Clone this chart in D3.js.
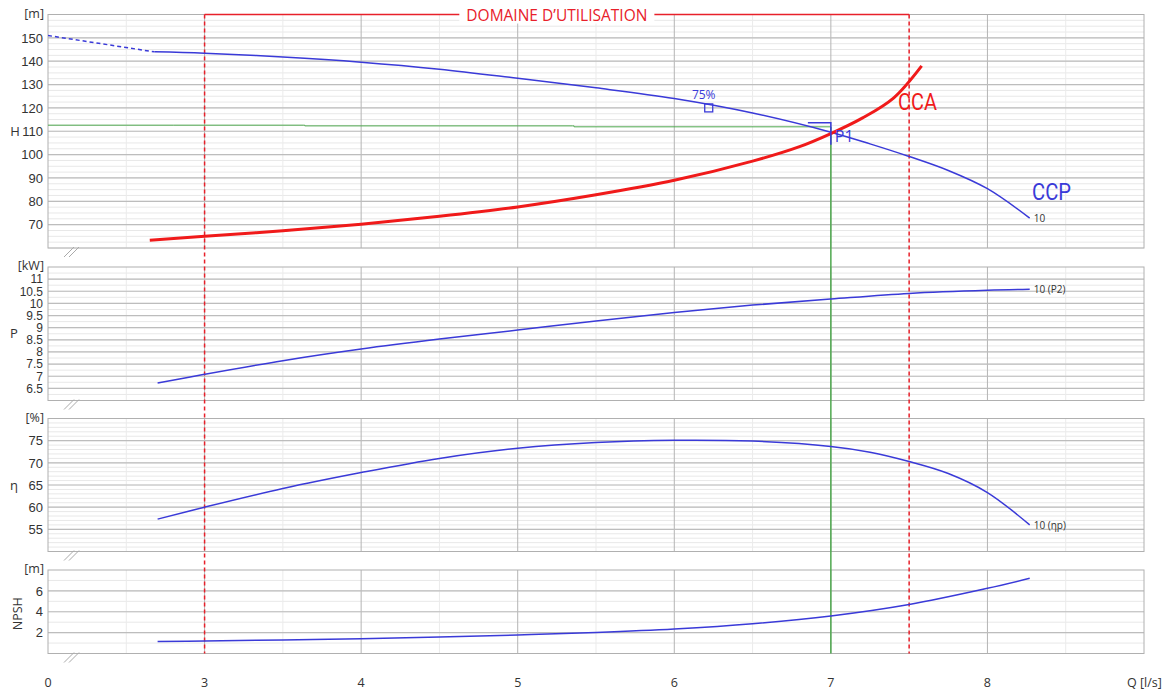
<!DOCTYPE html>
<html>
<head>
<meta charset="utf-8">
<script src="https://cdn.jsdelivr.net/npm/d3@7"></script>
<style>
  body { margin: 0; background: #fff; }
  svg { font-family: "Open Sans", "Noto Sans", sans-serif; }
  .tick text { font-size: 13px; fill: #333; }
  .tight .tick text { font-size: 12px; }
</style>
</head>
<body>
<div id="chart"></div>
<script>
// --- DATA (Q in l/s; the axis is broken, "0" sits at the left edge = 2) ---
const qTicks = [2, 3, 4, 5, 6, 7, 8];
const qLabels = ["0", "3", "4", "5", "6", "7", "8"];

const hShutoffQ = [2, 2.68];
const hShutoff = [151, 144];

const ccpQ = [2.68, 3, 3.5, 4, 4.5, 5, 5.5, 6, 6.5, 7, 7.25, 7.5, 7.75, 8, 8.27];
const ccpH = [144, 143.4, 141.8, 139.6, 136.6, 132.7, 128.6, 124, 117.8, 109.6, 104.6, 99.2, 93.2, 85.4, 72.8];

const ccaQ = [2.65, 3, 3.5, 4, 4.5, 5, 5.5, 6, 6.5, 6.8, 7, 7.2, 7.4, 7.58];
const ccaH = [63.3, 65, 67.4, 70.2, 73.6, 77.6, 82.8, 89, 97.2, 103.4, 109, 115.6, 124.2, 138];

const pQ = [2.7, 3, 3.5, 4, 4.5, 5, 5.5, 6, 6.5, 7, 7.5, 8, 8.27];
const pKW = [6.72, 7.08, 7.64, 8.12, 8.53, 8.9, 9.28, 9.63, 9.93, 10.18, 10.41, 10.54, 10.58];

const etaQ = [2.7, 3, 3.5, 4, 4.5, 5, 5.5, 6, 6.5, 7, 7.25, 7.5, 7.75, 8, 8.27];
const eta = [57.3, 60, 64.2, 67.8, 71, 73.3, 74.6, 75.1, 74.9, 73.7, 72.4, 70.3, 67.6, 63.3, 56];

const npshQ = [2.7, 3, 3.5, 4, 4.5, 5, 5.5, 6, 6.5, 7, 7.5, 8, 8.27];
const npsh = [1.15, 1.2, 1.3, 1.42, 1.58, 1.78, 2.02, 2.35, 2.85, 3.6, 4.7, 6.25, 7.2];

const dutyLine = { q: [2, 2.8, 3.63, 3.64, 5.35, 5.36, 7], h: [112.6, 112.6, 112.6, 112.3, 112.3, 111.9, 111.9] };
const dutyQ = 7, dutyH = 109.4;
const rangeQ = [3, 7.5];
const bestEffQ = 6.22, bestEffH = 120;

// --- LAYOUT ---
const width = 1172, height = 693;
const left = 48, right = 1144;

const svg = d3.select("#chart").append("svg")
  .attr("width", width).attr("height", height);

const x = d3.scaleLinear().domain([2, 9]).range([left, right]);

const panels = [
  { key: "H", unit: "[m]", top: 14.5, bottom: 248, domain: [60, 160], ticks: d3.range(70, 151, 10), minor: d3.range(60, 160, 2.5) },
  { key: "P", unit: "[kW]", top: 267, bottom: 400.5, domain: [6, 11.5], ticks: d3.range(6.5, 11.01, 0.5), minor: d3.range(6, 11.5, 0.25), tight: true },
  { key: "η", unit: "[%]", top: 418.5, bottom: 551.5, domain: [50, 80], ticks: d3.range(55, 76, 5), minor: d3.range(50, 80, 1) },
  { key: "NPSH", unit: "[m]", top: 570, bottom: 653.5, domain: [0, 8], ticks: [2, 4, 6], minor: d3.range(0, 8, 1) }
];

panels.forEach(p => {
  p.y = d3.scaleLinear().domain(p.domain).range([p.bottom, p.top]);
  const g = svg.append("g");

  // minor horizontal grid
  g.selectAll(".hmin").data(p.minor).enter().append("line")
    .attr("x1", left).attr("x2", right)
    .attr("y1", d => p.y(d)).attr("y2", d => p.y(d))
    .attr("stroke", "#e8e8e8").attr("stroke-width", 1);

  // vertical grid: half steps light, whole steps darker
  g.selectAll(".vmin").data(d3.range(2.5, 9, 1)).enter().append("line")
    .attr("x1", d => x(d)).attr("x2", d => x(d))
    .attr("y1", p.top).attr("y2", p.bottom)
    .attr("stroke", "#ebebeb");
  g.selectAll(".vmaj").data(d3.range(3, 9, 1)).enter().append("line")
    .attr("x1", d => x(d)).attr("x2", d => x(d))
    .attr("y1", p.top).attr("y2", p.bottom)
    .attr("stroke", "#b4b4b4");

  // major horizontal grid
  g.selectAll(".hmaj").data(p.ticks).enter().append("line")
    .attr("x1", left).attr("x2", right)
    .attr("y1", d => p.y(d)).attr("y2", d => p.y(d))
    .attr("stroke", "#bdbdbd").attr("stroke-width", 1.2);

  g.append("rect")
    .attr("x", left).attr("y", p.top)
    .attr("width", right - left).attr("height", p.bottom - p.top)
    .attr("fill", "none").attr("stroke", "#b0b0b0");

  const ax = g.append("g").attr("transform", `translate(${left - 1},0)`)
    .classed("tight", !!p.tight)
    .call(d3.axisLeft(p.y).tickValues(p.ticks).tickSize(0).tickPadding(4).tickFormat(d3.format("")));
  ax.select(".domain").remove();

  g.append("text").attr("x", 44).attr("y", p.top + 3)
    .attr("text-anchor", "end").attr("font-size", 12.5).attr("fill", "#333").text(p.unit);

  // axis break marks
  [0, 5].forEach(o => {
    g.append("line")
      .attr("x1", 64 + o).attr("y1", p.bottom + 9)
      .attr("x2", 74 + o).attr("y2", p.bottom - 1)
      .attr("stroke", "#aaa").attr("stroke-width", 1);
  });
});

const [pH, pP, pE, pN] = panels;

// axis titles
svg.append("text").attr("x", 15).attr("y", pH.y(110) + 4.5).attr("text-anchor", "middle").attr("font-size", 13).attr("fill", "#333").text("H");
svg.append("text").attr("x", 14).attr("y", pP.y(8.75) + 4.5).attr("text-anchor", "middle").attr("font-size", 13).attr("fill", "#333").text("P");
svg.append("text").attr("x", 14).attr("y", pE.y(65) + 4.5).attr("text-anchor", "middle").attr("font-size", 13).attr("fill", "#333").text("η");
svg.append("text").attr("transform", `translate(${22},${(pN.top + pN.bottom) / 2 + 2}) rotate(-90)`)
  .attr("text-anchor", "middle").attr("font-size", 12.5).attr("fill", "#333").text("NPSH");

// x axis labels
svg.append("g").selectAll("text").data(qTicks).enter().append("text")
  .attr("x", d => x(d)).attr("y", 687)
  .attr("text-anchor", "middle").attr("font-size", 12.5).attr("fill", "#333")
  .text((d, i) => qLabels[i]);
svg.append("text").attr("x", 1127).attr("y", 687).attr("font-size", 12.5).attr("fill", "#333").text("Q [l/s]");

// operating range (red dashed) + bracket
rangeQ.forEach(q => {
  svg.append("line")
    .attr("x1", x(q)).attr("x2", x(q))
    .attr("y1", pH.top).attr("y2", pN.bottom)
    .attr("stroke", "#e8202a").attr("stroke-width", 1.5)
    .attr("stroke-dasharray", "4,3");
});
svg.append("line").attr("x1", x(rangeQ[0])).attr("x2", x(rangeQ[1]))
  .attr("y1", pH.top).attr("y2", pH.top)
  .attr("stroke", "#e8202a").attr("stroke-width", 1.5);
const title = svg.append("text")
  .attr("x", (x(rangeQ[0]) + x(rangeQ[1])) / 2).attr("y", pH.top + 6)
  .attr("text-anchor", "middle").attr("font-size", 15.5).attr("fill", "#e8202a")
  .text("DOMAINE D’UTILISATION");
const tb = title.node().getBBox();
svg.insert("rect", () => title.node())
  .attr("x", tb.x - 7).attr("y", tb.y + 2).attr("width", tb.width + 14).attr("height", tb.height - 4)
  .attr("fill", "#fff");

const line = (y) => d3.line().x(d => x(d[0])).y(d => y(d[1])).curve(d3.curveCatmullRom.alpha(0.5));
const zip = (a, b) => a.map((v, i) => [v, b[i]]);

// duty point guide (green)
svg.append("path")
  .attr("d", d3.line().x(d => x(d[0])).y(d => pH.y(d[1])).curve(d3.curveStepAfter)(zip(dutyLine.q, dutyLine.h)))
  .attr("fill", "none").attr("stroke", "#4fa84f").attr("stroke-width", 1);
svg.append("line").attr("x1", x(dutyQ)).attr("x2", x(dutyQ))
  .attr("y1", pH.y(dutyLine.h[dutyLine.h.length - 1])).attr("y2", pN.bottom)
  .attr("stroke", "#4fa84f").attr("stroke-width", 1.5);

// H curves
svg.append("path").attr("d", d3.line().x(d => x(d[0])).y(d => pH.y(d[1]))(zip(hShutoffQ, hShutoff)))
  .attr("fill", "none").attr("stroke", "#3a3ad8").attr("stroke-width", 1.5).attr("stroke-dasharray", "4,3");
svg.append("path").attr("d", line(pH.y)(zip(ccpQ, ccpH)))
  .attr("fill", "none").attr("stroke", "#3a3ad8").attr("stroke-width", 1.5);
svg.append("path").attr("d", line(pH.y)(zip(ccaQ, ccaH)))
  .attr("fill", "none").attr("stroke", "#f01a1a").attr("stroke-width", 3);

// best efficiency marker
svg.append("rect").attr("x", x(bestEffQ) - 4).attr("y", pH.y(bestEffH) - 4)
  .attr("width", 8).attr("height", 8).attr("fill", "none").attr("stroke", "#3a3ad8").attr("stroke-width", 1.3);
svg.append("text").attr("x", x(bestEffQ) - 5).attr("y", pH.y(bestEffH) - 9)
  .attr("text-anchor", "middle").attr("font-size", 12).attr("fill", "#3a3ad8").text("75%");

// P1 marker
svg.append("path")
  .attr("d", `M${x(dutyQ) - 23},${pH.y(dutyH) - 10}H${x(dutyQ)}V${pH.y(dutyH) + 12}`)
  .attr("fill", "none").attr("stroke", "#3a3ad8").attr("stroke-width", 1.5);
svg.append("text").attr("x", x(dutyQ) + 4).attr("y", pH.y(dutyH) + 9)
  .attr("font-size", 16).attr("fill", "#3a3ad8").text("P1");

// curve names, condensed like the original
svg.append("text").attr("x", 898).attr("y", 110)
  .attr("font-family", "Roboto, 'DejaVu Sans', sans-serif")
  .attr("font-size", 23).attr("textLength", 39).attr("lengthAdjust", "spacingAndGlyphs")
  .attr("fill", "#f01a1a").text("CCA");
svg.append("text").attr("x", 1032).attr("y", 200)
  .attr("font-family", "Roboto, 'DejaVu Sans', sans-serif")
  .attr("font-size", 23).attr("textLength", 39).attr("lengthAdjust", "spacingAndGlyphs")
  .attr("fill", "#3a3ad8").text("CCP");

const endLabel = (p, q, v, txt) => svg.append("text")
  .attr("x", x(q) + 4).attr("y", p.y(v) + 4)
  .attr("font-size", 10).attr("fill", "#333").text(txt);
endLabel(pH, ccpQ[ccpQ.length - 1], ccpH[ccpH.length - 1], "10");

// P, eta, NPSH curves
[[pP, pQ, pKW, "10 (P2)"], [pE, etaQ, eta, "10 (ηp)"], [pN, npshQ, npsh, null]].forEach(([p, qs, vs, lab]) => {
  svg.append("path").attr("d", line(p.y)(zip(qs, vs)))
    .attr("fill", "none").attr("stroke", "#3a3ad8").attr("stroke-width", 1.5);
  if (lab) endLabel(p, qs[qs.length - 1], vs[vs.length - 1], lab);
});
</script>
</body>
</html>
